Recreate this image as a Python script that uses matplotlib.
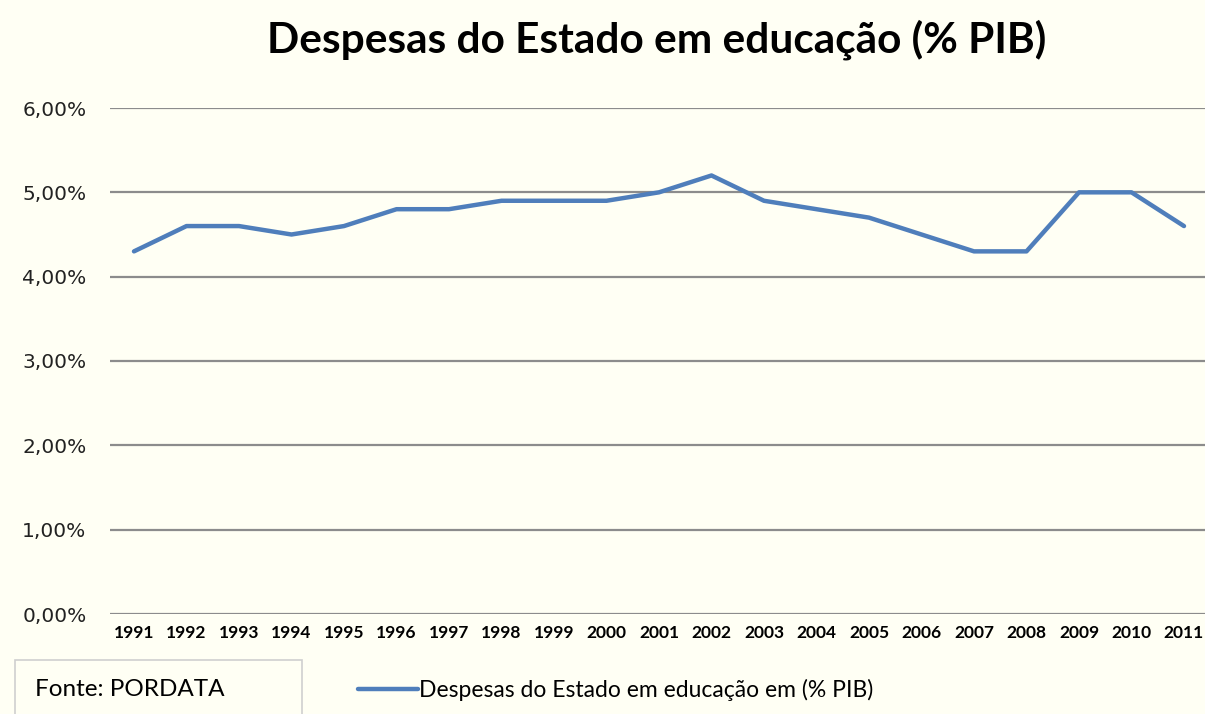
import matplotlib
matplotlib.use("Agg")
from matplotlib import pyplot as plt
from matplotlib.patches import Rectangle
from matplotlib.ticker import FuncFormatter

years = [str(y) for y in range(1991, 2012)]
despesas = [4.3, 4.6, 4.6, 4.5, 4.6, 4.8, 4.8, 4.9, 4.9, 4.9, 5.0,
            5.2, 4.9, 4.8, 4.7, 4.5, 4.3, 4.3, 5.0, 5.0, 4.6]
y_ticks = [0, 1, 2, 3, 4, 5, 6]

bg = '#fffff4'
line_color = '#4f7ebb'

fig = plt.figure(figsize=(12.05, 7.14), dpi=100, facecolor=bg)
ax = fig.add_axes([110 / 1205, 1 - 614 / 714, 1 - 110 / 1205, (614 - 108) / 714])
ax.set_facecolor(bg)

x = list(range(len(years)))
line, = ax.plot(x, despesas, color=line_color, lw=3.2, solid_joinstyle='round',
                solid_capstyle='round', label='Despesas do Estado em educação em (% PIB)')

ax.set_xlim(-0.457, 20.4)
ax.set_ylim(0, 6)
ax.set_yticks(y_ticks)
ax.yaxis.set_major_formatter(FuncFormatter(lambda v, p: f'{v:.2f}%'.replace('.', ',')))
ax.set_xticks(x)
ax.set_xticklabels(years, fontfamily='Lato', fontweight='bold', fontsize=12.5)
ax.tick_params(axis='both', length=0)
ax.tick_params(axis='x', pad=8)
ax.tick_params(axis='y', pad=17, labelsize=14.5, labelcolor='#222222')
ax.grid(axis='y', color='#8c8c8c', lw=1.6)
ax.set_axisbelow(True)
for s in ax.spines.values():
    s.set_visible(False)

fig.text(657 / 1205, 1 - 40 / 714, 'Despesas do Estado em educação (% PIB)',
         ha='center', va='center', fontfamily='Lato', fontweight='bold', fontsize=30.5)

fig.patches.append(Rectangle((15 / 1205, -0.01), 287 / 1205, 0.01 + 54 / 714,
                             transform=fig.transFigure, facecolor=bg,
                             edgecolor='#cfcfcf', lw=1.2))
fig.text(35 / 1205, 1 - 690 / 714, 'Fonte: PORDATA', ha='left', va='center',
         fontfamily='Lato', fontsize=17.5)

fig.legend(handles=[line], loc='center left', bbox_to_anchor=(358 / 1205, 1 - 690 / 714),
           frameon=False, prop={'family': 'Lato', 'size': 16.5},
           handlelength=2.6, handletextpad=0.05, borderpad=0, borderaxespad=0)

fig.savefig('out.png', dpi=100, facecolor=bg)
